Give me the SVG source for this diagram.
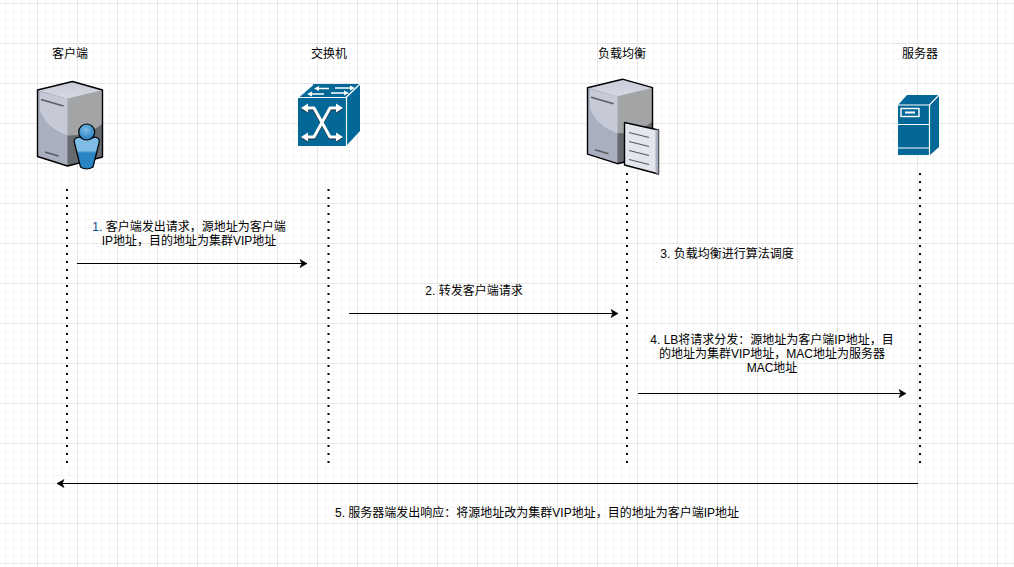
<svg xmlns="http://www.w3.org/2000/svg" width="1014" height="567" viewBox="0 0 1014 567">
  <style>
    text { font-family: "Liberation Sans", "Noto Sans CJK SC", sans-serif; font-size: 12px; fill: #000; text-anchor: middle; }
    .life { fill: none; stroke: #000; stroke-width: 2; stroke-dasharray: 2 6; }
    .msg { fill: none; stroke: #000; stroke-width: 1; marker-end: url(#tip); }
    .edge { stroke: #000; stroke-width: 1.4; stroke-linejoin: round; }
    .wh { fill: none; stroke: #fff; stroke-width: 1.2; }
    .teal { fill: #036897; }
  </style>
  <defs>
    <pattern id="minor" width="8" height="8" patternUnits="userSpaceOnUse" x="5" y="3">
      <path d="M0.5 0V8M0 0.5H8" fill="none" stroke="#f7f7f7" stroke-width="1"/>
    </pattern>
    <pattern id="major" width="40" height="40" patternUnits="userSpaceOnUse" x="37" y="3">
      <path d="M0.5 0V40M0 0.5H40" fill="none" stroke="#e6e6e6" stroke-width="1"/>
    </pattern>
    <marker id="tip" markerUnits="userSpaceOnUse" markerWidth="10" markerHeight="10" refX="7" refY="4" orient="auto" overflow="visible">
      <path d="M0 0L7 4L0 8L1.75 4Z" fill="#000" stroke="#000" stroke-width="0.6"/>
    </marker>
    <linearGradient id="top" x1="0" y1="0" x2="0" y2="1">
      <stop offset="0" stop-color="#c8ccd9"/><stop offset="1" stop-color="#d6d9e2"/>
    </linearGradient>
    <linearGradient id="body" x1="0" y1="0" x2="0" y2="1">
      <stop offset="0" stop-color="#7fbde6"/><stop offset="0.42" stop-color="#7fbde6"/><stop offset="0.5" stop-color="#2a85c4"/><stop offset="1" stop-color="#2a85c4"/>
    </linearGradient>
    <radialGradient id="head" cx="0.45" cy="0.35" r="0.7">
      <stop offset="0" stop-color="#7dbbe6"/><stop offset="1" stop-color="#1f7cbd"/>
    </radialGradient>
    <!-- Shared tower drawn at the client's position -->
    <g id="tower">
      <path d="M37.500 90L72.500 81.500L102.500 90V157L67.500 166L37.500 156.500Z" fill="#a9afbf"/>
      <path d="M67.500 98.500L102.500 90V157L67.500 166Z" fill="#a2a4a6"/>
      <path d="M67.500 135.500Q87 136 102.500 124V157L67.500 166Z" fill="#666a6e"/>
      <path d="M37.500 90L72.500 81.500L102.500 90L67.500 98.500Z" fill="url(#top)"/>
      <path d="M40 92L67.500 98.500V135.500Q46 128 40 110Z" fill="#c6cad7"/>
      <path d="M37.500 90L72.500 81.500L102.500 90V157L67.500 166L37.500 156.500Z" fill="none" class="edge"/>
      <path d="M41 99.500L63.500 106M45 152L58.500 156" fill="none" stroke="#5a5d63" stroke-width="1.600"/>
    </g>
    <!-- Four-way switching arrows on the front of the switch -->
    <g id="cross">
      <path d="M307 108H314L330 137H337M307 137H314L330 108H337" fill="none" stroke="currentColor" stroke-width="3" stroke-linejoin="round"/>
      <path d="M301 108L308 103.500V112.500ZM343 108L336 103.500V112.500ZM301 137L308 132.500V141.500ZM343 137L336 132.500V141.500Z" fill="currentColor"/>
    </g>
  </defs>

  <!-- Background grid -->
  <rect width="1014" height="567" fill="#fff"/>
  <rect width="1014" height="567" fill="url(#minor)"/>
  <rect width="1014" height="567" fill="url(#major)"/>

  <g id="connectors">
    <path class="life" d="M67 189V465"/>
    <path class="life" d="M328.500 189V465"/>
    <path class="life" d="M627 173V465"/>
    <path class="life" d="M920 173V465"/>
    <path class="msg" d="M77 263.500H307"/>
    <path class="msg" d="M349 313.500H618"/>
    <path class="msg" d="M638 393.500H906"/>
    <path class="msg" d="M918 483.500H57"/>
  </g>

  <g id="client">
    <text x="70" y="58">客户端</text>
    <use href="#tower"/>
    <path d="M79 137Q73 138 74.500 143L80.500 167Q86.500 171 93 167L99 143Q100.500 138 95 137Q87 141 79 137Z" fill="url(#body)" stroke="#000" stroke-width="1.200"/>
    <circle cx="86.700" cy="132" r="8" fill="url(#head)" stroke="#000" stroke-width="1.200"/>
  </g>

  <g id="switch">
    <text x="329" y="58">交换机</text>
    <path class="teal" d="M298 97H346V146H298Z"/>
    <path class="teal" d="M298 97L313 84H360L346 97Z"/>
    <path class="teal" d="M346 97L360 84V131L346 146Z"/>
    <path d="M298 97.500H346M313 84.500L298 97.500M346 97.500L360 84M346.500 97V146" class="wh" stroke-width="1.500"/>
    <use href="#cross" style="color:#1c2a33" transform="translate(0 1)"/>
    <use href="#cross" style="color:#fff"/>
    <path d="M318 88.500H329M311 94H324M331 93H345M335 88H351" fill="none" stroke="#fff" stroke-width="1.600"/>
    <path d="M314 88.500L319 86V91ZM307 94L312 91.500V96.500ZM349 93L344 90.500V95.500ZM355 88L350 85.500V90.500Z" fill="#fff"/>
  </g>

  <g id="balancer">
    <text x="622" y="58">负载均衡</text>
    <use href="#tower" transform="translate(550 -2.300)"/>
    <path d="M624.500 122.500L658.500 130V174L624.500 165Z" fill="#e4e6ee" stroke="#000" stroke-width="1.400" stroke-linejoin="round"/>
    <path d="M655.500 129.500L658.500 130V174L655.500 173Z" fill="#a9afbf"/>
    <path d="M629 132.500L649 137.500M629 141.500L649 146.500M629 150.500L649 155.500M629 159.500L649 164.500" fill="none" stroke="#55585f" stroke-width="1.200"/>
  </g>

  <g id="server">
    <text x="920" y="58">服务器</text>
    <path class="teal" d="M898 105H929V155H898Z"/>
    <path class="teal" d="M898 105L907 95H939L929 105Z"/>
    <path class="teal" d="M929 105L939 95V147L930 155Z"/>
    <path d="M898 105H929.500L939 95M929.500 105V155M898 124.500H929M898 148H929" class="wh" stroke-width="1.400"/>
    <rect x="901" y="108.500" width="18" height="8" fill="none" stroke="#fff" stroke-width="1.400"/>
    <rect x="905" y="111.500" width="10" height="2" fill="#fff"/>
  </g>

  <g id="labels">
    <text x="189" y="231"><tspan fill="#0b4f86">1.</tspan> 客户端发出请求，源地址为客户端</text>
    <text x="189" y="245">IP地址，目的地址为集群VIP地址</text>
    <text x="474" y="295">2. 转发客户端请求</text>
    <text x="727" y="258">3. 负载均衡进行算法调度</text>
    <text x="772" y="344">4. LB将请求分发：源地址为客户端IP地址，目</text>
    <text x="772" y="358">的地址为集群VIP地址，MAC地址为服务器</text>
    <text x="772" y="372">MAC地址</text>
    <text x="537" y="517">5. 服务器端发出响应：将源地址改为集群VIP地址，目的地址为客户端IP地址</text>
  </g>
</svg>
